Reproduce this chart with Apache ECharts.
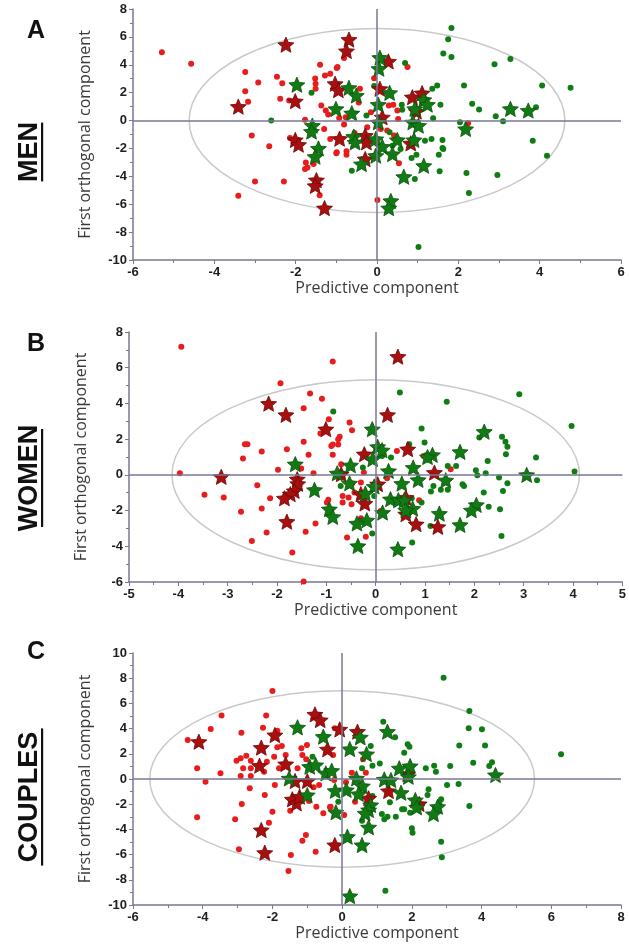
<!DOCTYPE html>
<html><head><meta charset="utf-8">
<script src="https://cdn.jsdelivr.net/npm/echarts@6/dist/echarts.min.js"></script>
<style>html,body{margin:0;padding:0;background:#fff}#c{width:629px;height:945px}</style>
</head><body><div id="c"></div>
<script>
// ---------- Panel A (MEN) ----------
const aRedDots = [[-5.29,4.9],[-4.57,4.08],[-3.24,3.48],[-2.92,2.73],[-3.24,2.11],[-3.17,1.34],[-2.46,3.14],[-2.33,2.68],[-2.38,1.56],[-2.16,1.44],[-1.40,4.0],[-1.52,3.02],[-1.51,2.64],[-1.51,2.28],[-1.28,3.24],[-1.15,3.36],[-0.99,3.77],[-1.37,1.08],[-1.26,0.72],[-1.2,0.43],[-1.77,0.05],[-3.08,-1.08],[-2.65,-1.85],[-2.14,-1.25],[-1.15,-1.32],[-1.75,-3.0],[-1.71,-3.36],[-1.77,-3.48],[-1.56,-3.12],[-3.0,-4.37],[-2.29,-4.37],[-3.41,-5.4],[-1.41,-5.35],[-0.99,-2.28],[-0.81,4.48],[-0.97,3.84],[0.75,3.84],[-0.07,3.04],[-0.42,2.28],[0.29,1.08],[0.4,1.13],[0.5,0.72],[-0.15,0.6],[-0.93,0.19],[-0.77,0.24],[0.52,0.12],[-0.24,-0.48],[-0.81,-0.29],[0.09,-0.6],[0.25,-0.72],[2.24,-0.19],[0.42,-1.08],[-1.0,-2.35],[-0.75,-2.2],[-0.75,-2.45],[0.54,-3.07],[0.01,-5.7],[-0.55,-0.9],[-0.45,1.3],[-1.3,-0.6]];
const aGreenDots = [[-1.61,1.99],[-2.6,0],[1.83,6.64],[1.75,5.83],[1.63,4.8],[1.83,4.56],[2.89,4.03],[3.28,4.41],[0.69,4.12],[2.14,2.52],[4.06,2.52],[4.76,2.35],[1.48,2.52],[1.36,2.28],[1.56,1.13],[2.34,1.2],[2.51,0.79],[2.92,0.31],[3.1,-0.05],[3.91,0.96],[2.04,-0.12],[1.38,0.17],[0.61,1.13],[0.62,0.77],[-0.07,2.47],[-0.26,0.36],[3.83,-1.44],[1.61,-1.39],[1.34,-1.32],[1.18,-1.44],[0.31,-0.84],[1.61,-1.97],[-0.62,-3.6],[0.93,-4.2],[0.85,-2.68],[0.97,-2.45],[1.52,-2.45],[1.63,-2.04],[1.54,-3.64],[2.2,-3.76],[2.96,-3.91],[2.26,-5.2],[4.18,-2.52],[1.02,-9.06],[0.38,-1.8],[0.58,-2.04]];
const aRedStars = [[-2.24,5.44],[-3.41,1.0],[-2.01,1.39],[-1.03,2.64],[-0.95,2.18],[-2.01,-1.39],[-1.93,-1.73],[-0.92,-1.3],[-1.49,-4.27],[-1.52,-4.68],[-1.29,-6.28],[-0.69,5.81],[-0.75,4.99],[0.28,4.24],[0.07,2.28],[0.87,1.68],[1.11,1.97],[0.97,0.65],[0.13,0.24],[-0.29,-1.08],[-0.26,-1.56],[0.83,-1.63],[-0.29,-2.76]];
const aGreenStars = [[-1.97,2.57],[-1.01,0.84],[-1.59,-0.36],[-1.61,-0.79],[-1.44,-2.0],[-1.52,-2.59],[0.07,4.51],[0.05,3.72],[-0.69,2.35],[-0.51,1.8],[0.31,1.99],[0.03,1.15],[-0.62,0.53],[0.93,0.84],[1.15,1.49],[1.24,1.15],[0.03,-0.12],[0.88,-0.12],[1.02,-0.36],[2.18,-0.6],[3.28,0.84],[3.72,0.72],[-0.57,-1.15],[-0.54,-1.56],[-0.03,-1.32],[0.5,-1.39],[0.91,-1.39],[0.13,-1.87],[0.38,-2.4],[-0.03,-2.52],[-0.38,-3.12],[1.15,-3.24],[0.66,-4.03],[0.34,-5.76],[0.29,-6.28]];
const aEllipse = [[0,0,4.62,6.6]];

// ---------- Panel B (WOMEN) ----------
const bRedDots = [[-3.94,7.18],[-1.93,5.13],[-0.87,6.35],[-1.33,4.55],[-1.09,4.26],[-1.46,3.73],[-0.95,3.12],[-1.12,2.31],[-1.46,1.85],[-1.8,1.44],[-2.31,1.31],[-2.65,1.72],[-2.6,1.72],[-1.36,1.12],[-0.87,1.12],[-0.9,1.62],[-2.69,0.91],[-3.97,0.09],[-3.47,-1.12],[-3.08,-1.27],[-2.4,-0.58],[-2.73,-2.07],[-2.31,-1.88],[-2.14,-1.31],[-1.98,0.28],[-2.51,-3.7],[-2.21,-3.23],[-1.42,-3.19],[-1.22,-2.72],[-1.69,-4.35],[-1.46,-5.97],[-1.26,0.09],[-1.51,0.35],[-0.99,-1.55],[-0.96,-1.4],[-0.53,2.93],[-0.48,2.5],[-0.73,2.13],[-0.76,1.99],[-0.87,1.7],[-0.76,1.7],[0.43,1.34],[-0.7,0.6],[-0.24,0.13],[-0.48,-0.49],[-0.3,-0.43],[-0.43,-0.99],[-0.67,-1.18],[-0.55,-1.27],[-0.67,-1.55],[-0.49,-1.64],[-0.58,-3.51],[-0.2,-3.47],[1.52,0.32],[0.23,-0.19],[0.88,-1.42],[0.1,-2.02],[-0.3,-2.43],[0.97,1.06]];
const bGreenDots = [[-0.86,3.55],[0.49,4.61],[1.44,4.1],[2.91,4.52],[3.97,2.74],[0.93,2.59],[0.99,1.81],[0.68,1.72],[2.56,2.14],[2.63,1.86],[2.67,1.57],[2.64,1.16],[3.25,0.97],[2.1,2.09],[0.31,0.97],[1.46,0.5],[1.63,0.5],[2.03,0.26],[2.06,-0.02],[2.23,0.09],[2.27,0.78],[2.5,-0.15],[2.67,-0.47],[3.27,-0.3],[4.03,0.19],[1.76,-0.52],[1.79,-0.62],[1.46,-0.84],[1.32,-0.84],[1.12,-0.93],[1.17,-0.62],[2.19,-0.99],[2.58,-0.9],[0.93,-1.55],[0.73,-1.31],[2.29,-1.79],[2.52,-1.92],[2.55,-3.42],[1.11,-2.86],[0.74,-3.79],[-0.07,-3.28],[0.13,1.06],[-0.26,0.41],[-0.03,-1.18],[-0.71,-0.62]];
const bRedStars = [[-2.17,3.99],[-1.82,3.36],[-1.01,2.56],[-3.13,-0.11],[-1.59,-0.24],[-1.58,-0.5],[-1.65,-0.9],[-1.73,-1.08],[-1.85,-1.31],[-1.8,-2.62],[0.45,6.62],[0.24,3.36],[-0.23,1.16],[0.65,1.44],[1.19,0.13],[-0.7,0.04],[0.04,-0.52],[-0.3,-1.08],[-0.22,-1.6],[0.61,-2.2],[0.82,-2.76],[1.26,-2.91],[0.61,-1.27]];
const bGreenStars = [[-1.63,0.6],[-1.24,-0.84],[-0.94,-1.92],[-0.87,-2.35],[-0.78,0.09],[-0.07,2.56],[2.2,2.42],[0.04,1.57],[0.13,1.38],[1.15,1.12],[1.05,1.0],[1.71,1.29],[-0.06,0.88],[-0.51,0.54],[0.26,0.22],[0.76,0.41],[0.86,-0.28],[1.42,-0.3],[0.53,-0.49],[-0.53,-0.47],[-0.03,-0.65],[-0.21,-1.05],[3.06,0],[0.3,-1.36],[0.46,-1.42],[0.58,-1.42],[0.75,-1.89],[0.61,-1.98],[0.14,-2.11],[1.29,-2.17],[2.04,-1.68],[1.94,-1.98],[-0.18,-2.54],[-0.38,-2.72],[1.71,-2.8],[-0.36,-3.98],[0.45,-4.16]];
const bEllipse = [[0,0,4.13,5.32]];

// ---------- Panel C (COUPLES) ----------
const cRedDots = [[-2.0,6.98],[-3.46,5.03],[-3.77,3.97],[-4.43,3.1],[-4.16,0.85],[-3.49,0.45],[-2.89,3.67],[-2.18,5.03],[-2.27,4.07],[-1.86,3.83],[-3.03,1.45],[-2.91,1.64],[-2.75,1.85],[-2.62,1.45],[-2.84,0.85],[-2.62,0.85],[-2.91,0.24],[-2.62,0.24],[-2.24,0.58],[-2.16,1.37],[-1.95,1.77],[-1.86,2.51],[-1.73,2.62],[-1.81,0.85],[-1.62,1.9],[-1.17,2.44],[-1.01,2.7],[-1.14,1.9],[-1.03,1.56],[-1.28,0.85],[-0.21,4.02],[-3.92,-0.21],[-4.16,-3.04],[-2.88,-1.98],[-3.07,-3.2],[-2.96,-5.58],[-2.65,-0.74],[-2.22,-1.27],[-1.93,-0.48],[-2.0,-2.59],[-2.1,-3.47],[-1.49,-2.52],[-1.47,-6.03],[-1.54,-7.3],[-1.04,-4.44],[-1.14,-4.9],[-0.76,-5.77],[-0.74,-2.2],[-0.54,-2.72],[-0.35,-2.25],[-0.82,-0.66],[-0.66,-0.48],[-0.95,-1.75],[-1.14,-1.53],[-0.26,1.9],[0.28,0.5],[0.68,0.5],[0.6,1.56],[-0.23,-0.08],[0.11,-0.26],[0.37,-1.8],[-0.33,-2.2],[0.06,-2.86]];
const cGreenDots = [[-0.85,1.77],[2.91,8.04],[3.65,5.4],[3.63,4.02],[4.01,3.94],[3.36,2.65],[4.1,2.65],[3.76,1.29],[4.22,1.03],[4.3,1.32],[3.1,1.03],[2.64,1.06],[2.69,0.58],[2.4,0.85],[6.28,1.96],[1.18,4.55],[1.52,3.31],[0.82,2.62],[1.88,2.75],[1.93,2.56],[1.78,2.09],[1.08,1.24],[0.87,1.06],[0.57,0.85],[3.01,-0.48],[3.34,-0.4],[0.87,-1.35],[1.37,-1.85],[1.14,-2.78],[1.3,-2.99],[1.21,-3.2],[1.54,-2.99],[1.72,-2.41],[1.78,-2.41],[1.95,-2.67],[2.0,-3.91],[2.02,-4.26],[2.45,-1.27],[2.48,-0.82],[2.84,-1.61],[2.79,-1.9],[3.65,-2.14],[2.84,-4.98],[2.86,-6.22],[1.24,-8.87],[-0.11,-1.8],[0.57,-3.31]];
const cRedStars = [[-4.11,2.96],[-2.32,2.49],[-2.37,1.06],[-1.93,3.49],[-1.62,1.19],[-0.78,5.13],[-0.63,4.68],[-0.42,2.36],[-1.35,-0.16],[-1.0,-0.16],[-2.32,-4.05],[-2.22,-5.85],[-1.43,-1.61],[-1.31,-1.93],[-1.22,-1.4],[-0.21,-5.24],[-0.07,3.94],[0.44,3.76],[1.88,0.4],[1.33,-0.95],[0.76,-1.53],[2.21,-1.98]];
const cGreenStars = [[-1.28,4.1],[-0.54,3.36],[-1.52,0.05],[-0.93,0.98],[-0.76,1.11],[-0.47,0.45],[-0.3,0.66],[-1.0,-1.27],[-0.2,-0.93],[-0.18,-2.64],[1.3,3.76],[0.52,3.31],[0.22,2.38],[0.7,1.98],[0.41,0.05],[1.64,0.85],[1.95,1.03],[1.9,0.18],[1.21,-0.03],[1.4,-0.08],[4.4,0.32],[0.58,-0.56],[0.12,-0.87],[0.47,-1.19],[1.69,-1.09],[0.82,-2.06],[0.76,-2.46],[0.66,-2.72],[2.1,-1.67],[2.14,-2.25],[2.74,-2.2],[2.62,-2.78],[0.76,-3.83],[0.15,-4.58],[0.57,-5.24],[0.22,-9.29]];
const cEllipse = [[0,0,5.52,7.0]];

// axis ranges [min,max,interval]
const xRanges = [[-6,6,2],[-5,5,1],[-6,8,2]];
const yRanges = [[-10,8,2],[-6,8,2],[-10,10,2]];
const panelLetters = ['A','B','C'];
const panelNames = ['MEN','WOMEN','COUPLES'];
const xTitle = 'Predictive component';
const yTitle = 'First orthogonal component';

const panels = [
  {red:aRedDots, green:aGreenDots, redS:aRedStars, greenS:aGreenStars, ell:aEllipse},
  {red:bRedDots, green:bGreenDots, redS:bRedStars, greenS:bGreenStars, ell:bEllipse},
  {red:cRedDots, green:cGreenDots, redS:cRedStars, greenS:cGreenStars, ell:cEllipse}
];

const grids = [
  {left:133, top:9, width:488, height:251},
  {left:129, top:332, width:494, height:250},
  {left:133, top:653, width:488, height:252}
];

const STAR = 'path://M50,0 L63.52,31.39 L97.55,34.55 L71.87,57.11 L79.39,90.45 L50,73 L20.61,90.45 L28.13,57.11 L2.45,34.55 L36.48,31.39 Z';
const axisColor = '#787894';
const labelStyle = {color:'#1e1e1e', fontWeight:'bold', fontSize:13, fontFamily:'Liberation Sans'};
const nameStyle = {color:'#3a3a3a', fontSize:16, fontFamily:'Open Sans'};

const xAxes = [], yAxes = [], series = [];
xRanges.forEach((r,i)=>{
  xAxes.push({gridIndex:i, type:'value', min:r[0], max:r[1], interval:r[2],
    name:xTitle, nameLocation:'middle', nameGap:20, nameTextStyle:nameStyle,
    axisLine:{onZero:false, lineStyle:{color:axisColor, width:1.5}},
    axisTick:{show:true, length:4, lineStyle:{color:axisColor}},
    minorTick:{show:true, splitNumber:2, length:3, lineStyle:{color:axisColor}},
    splitLine:{show:false}, axisLabel:Object.assign({margin:6}, labelStyle)});
});
yRanges.forEach((r,i)=>{
  yAxes.push({gridIndex:i, type:'value', min:r[0], max:r[1], interval:r[2],
    name:yTitle, nameLocation:'middle', nameGap:40, nameTextStyle:nameStyle,
    axisLine:{onZero:false, lineStyle:{color:axisColor, width:1.5}},
    axisTick:{show:true, length:4, lineStyle:{color:axisColor}},
    minorTick:{show:true, splitNumber:2, length:3, lineStyle:{color:axisColor}},
    splitLine:{show:false}, axisLabel:Object.assign({margin:6}, labelStyle)});
});

panels.forEach((p,i)=>{
  series.push({type:'custom', xAxisIndex:i, yAxisIndex:i, data:p.ell, silent:true, z:1,
    encode:{x:0,y:1},
    renderItem:function(params, api){
      const c = api.coord([api.value(0), api.value(1)]);
      const s = api.size([api.value(2), api.value(3)]);
      const rx = s[0], ry = s[1];
      const d = 'M '+(c[0]-rx)+' '+c[1]+' A '+rx+' '+ry+' 0 1 0 '+(c[0]+rx)+' '+c[1]+' A '+rx+' '+ry+' 0 1 0 '+(c[0]-rx)+' '+c[1]+' Z';
      return {type:'path', shape:{pathData:d}, style:{fill:null, stroke:'#c9c9c9', lineWidth:1.5}};
    },
    markLine:{silent:true, symbol:'none', label:{show:false}, animation:false,
      lineStyle:{color:axisColor, width:1.5, type:'solid'},
      data:[{xAxis:0},{yAxis:0}]}
  });
  series.push({type:'scatter', xAxisIndex:i, yAxisIndex:i, data:p.red, symbol:'circle', symbolSize:6, z:2,
    itemStyle:{color:'#e81c1c', opacity:1}});
  series.push({type:'scatter', xAxisIndex:i, yAxisIndex:i, data:p.green, symbol:'circle', symbolSize:6, z:2,
    itemStyle:{color:'#0f7d14', opacity:1}});
  series.push({type:'scatter', xAxisIndex:i, yAxisIndex:i, data:p.redS, symbol:STAR, symbolKeepAspect:true, symbolSize:16, z:3,
    itemStyle:{color:'#a80f0f', borderColor:'#6e0505', borderWidth:0.8, opacity:1}});
  series.push({type:'scatter', xAxisIndex:i, yAxisIndex:i, data:p.greenS, symbol:STAR, symbolKeepAspect:true, symbolSize:16, z:3,
    itemStyle:{color:'#117a14', borderColor:'#085208', borderWidth:0.8, opacity:1}});
});

const letterY = [32, 345, 653];
const nameY = [152, 478, 797];
const graphic = [];
panelLetters.forEach((L,i)=>{
  graphic.push({type:'text', left:27, top:letterY[i]-13, style:{text:L, font:'bold 25px "Liberation Sans"', fill:'#111'}});
});
panelNames.forEach((n,i)=>{
  graphic.push({type:'group', x:30, y:nameY[i], rotation:Math.PI/2, children:[
    {type:'text', x:0, y:0, style:{text:n, font:'bold 27px "Liberation Sans"', fill:'#111', align:'center', verticalAlign:'middle'}},
    {type:'rect', shape:{x:-(n.length*9.8), y:11, width:n.length*19.6, height:2.2}, style:{fill:'#111'}}
  ]});
});

const chart = echarts.init(document.getElementById('c'), null, {renderer:'canvas'});
chart.setOption({
  animation:false,
  backgroundColor:'#fff',
  grid:grids,
  xAxis:xAxes,
  yAxis:yAxes,
  series:series,
  graphic:graphic
});
</script>
</body></html>
